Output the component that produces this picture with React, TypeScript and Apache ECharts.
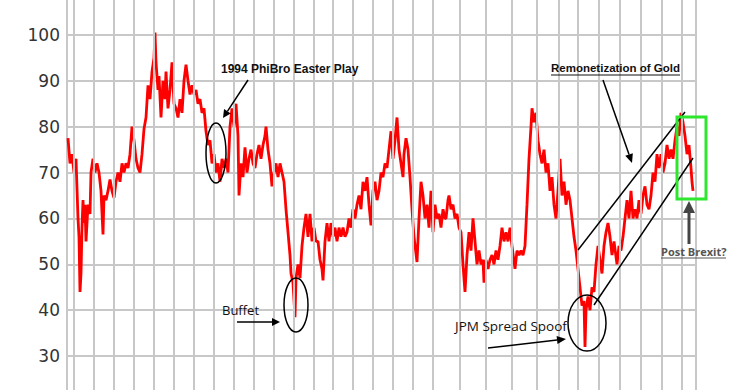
import React, { useEffect, useRef } from "react";
import * as echarts from "echarts";

// Y axis ticks shown
const yTickLabels = [30, 40, 50, 60, 70, 80, 90, 100];

// Period index (time) at which each yearly vertical gridline sits
const yearLines = [6.7, 26.7, 46.7, 66.7, 86.7, 106.7, 127, 147, 167, 187, 207, 227, 247, 266, 286, 306, 326, 346, 366, 393, 419, 445, 470, 492, 511, 532, 553, 574, 595, 615, 629];

// Ratio readings: [period index, value]
const ratio1: [number, number][] = [
  [1, 77.5], [3, 72], [5, 74], [7, 70], [9, 73], [11, 60], [12, 56], [13, 44], [14, 48], [15, 58], [16, 64], [17, 59], [18, 63], [19, 55], [21, 63], [23, 61], [24, 70], [26, 73], [28, 70], [30, 72], [32, 70], [34, 66], [36, 56.5], [37, 65], [39, 64], [41, 66], [43, 68.5], [45, 66], [47, 64.5], [49, 68], [51, 70], [53, 68], [55, 72], [57, 70], [59, 72], [61, 71], [63, 74], [65, 80], [67, 77], [69, 73], [71, 71], [73, 70], [75, 74], [77, 79.5], [79, 82], [81, 89], [83, 86], [85, 92], [87, 95], [88, 100.5], [89, 94], [91, 88], [92, 91], [94, 82], [96, 90], [98, 86], [99, 92], [101, 84], [103, 88], [105, 94], [107, 85], [109, 84], [111, 82], [113, 86], [115, 83], [117, 90], [119, 93.5], [121, 90], [123, 87],
];
const ratio2: [number, number][] = [
  [125, 89], [127, 87], [129, 88], [131, 85], [133, 86], [135, 83], [137, 84], [139, 79], [141, 76], [143, 77], [145, 72], [147, 74], [149, 70], [151, 72], [153, 68], [155, 73], [157, 71], [159, 73], [161, 70], [163, 80], [165, 84], [167, 80], [169, 85], [171, 78], [172, 65], [174, 72], [176, 69], [178, 75.5], [180, 70], [182, 73], [184, 75], [186, 72], [188, 71], [190, 74], [192, 76], [194, 73], [196, 76], [198, 78], [199, 80], [201, 75], [203, 72], [205, 67], [207, 70], [209, 72], [211, 69], [213, 72], [215, 70], [217, 68], [219, 62], [221, 57], [223, 52], [224, 48], [226, 46], [228, 38.5], [229, 47], [231, 50], [233, 47], [235, 54], [237, 58], [239, 61], [241, 56], [243, 61], [245, 55], [247, 58], [249, 55],
];
const ratio3: [number, number][] = [
  [251, 55], [253, 51], [255, 49], [256, 46.5], [258, 55], [260, 59], [262, 55], [264, 59], [266, 56], [268, 58], [270, 55], [272, 58], [274, 56], [276, 58], [278, 56], [280, 57], [282, 60], [284, 58], [286, 62], [288, 60], [290, 63], [292, 65], [294, 62], [296, 68], [298, 66], [300, 69], [302, 63], [304, 58.5], [306, 66], [308, 68], [310, 64], [312, 66], [314, 70], [316, 69], [318, 72], [320, 71], [322, 75], [324, 79], [326, 73], [328, 77], [330, 82], [332, 75], [334, 72], [336, 69], [337, 74], [339, 77.5], [341, 75], [343, 69], [345, 62], [347, 56], [350, 50.5], [352, 60], [354, 68], [356, 65], [358, 60], [360, 63], [362, 58], [364, 66], [366, 57], [368, 63], [370, 60], [372, 61], [374, 58], [376, 62], [378, 60],
];
const ratio4: [number, number][] = [
  [379, 60], [381, 64], [382, 65], [384, 62], [386, 63], [388, 60], [390, 61], [392, 58], [394, 57], [396, 50], [398, 44], [400, 52], [402, 57], [404, 53], [406, 60], [408, 55], [410, 50], [412, 53], [414, 50], [416, 51], [417, 46], [419, 51], [421, 49], [423, 51], [425, 52], [427, 50], [429, 53], [431, 51], [433, 54], [435, 58], [437, 55], [439, 57], [441, 55], [443, 58], [445, 54], [448, 49], [450, 53], [452, 52], [454, 53], [456, 52], [458, 54], [460, 63], [462, 73], [464, 80], [465, 84], [467, 81], [469, 83], [471, 77], [473, 74], [475, 72], [477, 75], [479, 70], [481, 72], [483, 66], [485, 69], [487, 63], [489, 60], [491, 66], [493, 73], [495, 65], [497, 68], [499, 63], [501, 66], [503, 64], [505, 60], [507, 56], [509, 53],
];
const ratio5: [number, number][] = [
  [511, 49], [513, 45], [515, 41], [517, 42], [518, 32], [519, 40], [521, 43], [523, 40], [525, 45], [527, 44], [529, 50], [531, 54], [533, 51], [535, 48], [537, 54], [539, 57], [541, 59], [543, 56], [545, 52], [547, 55], [550, 50], [552, 54], [554, 53], [556, 56], [558, 60], [560, 64], [562, 60], [564, 66], [566, 60], [568, 62], [570, 60], [572, 64], [574, 61], [576, 65], [578, 67], [580, 63], [582, 62], [584, 65], [586, 70], [588, 68], [590, 74], [592, 71], [594, 74], [596, 70], [598, 72], [600, 76], [602, 73], [604, 75], [606, 73], [608, 77], [610, 80], [612, 78], [614, 83], [616, 81], [618, 78], [620, 74], [622, 76], [624, 71], [625, 68], [626, 66],
];

const ratio = [...ratio1, ...ratio2, ...ratio3, ...ratio4, ...ratio5];

// The chart's box starts 11px above the visible window; annotations are given in window pixels
const OFFSET = 11;

function arrow(x1: number, y1: number, x2: number, y2: number, color: string, width: number, headLen: number, headHalf: number) {
  const dx = x2 - x1, dy = y2 - y1;
  const len = Math.sqrt(dx * dx + dy * dy);
  const ux = dx / len, uy = dy / len;
  const bx = x2 - ux * headLen, by = y2 - uy * headLen;
  const px = -uy, py = ux;
  return [
    { type: "line", z: 100, shape: { x1, y1, x2: bx, y2: by }, style: { stroke: color, lineWidth: width } },
    {
      type: "polygon", z: 100,
      shape: { points: [[x2, y2], [bx + px * headHalf, by + py * headHalf], [bx - px * headHalf, by - py * headHalf]] },
      style: { fill: color },
    },
  ];
}

function txt(text: string, x: number, y: number, font: string, fill: string) {
  return {
    type: "text", z: 100, x, y,
    style: { text, font, fill, textAlign: "left", align: "left", textVerticalAlign: "middle", verticalAlign: "middle" },
  };
}

function ell(cx: number, cy: number, rx: number, ry: number) {
  return { type: "ellipse", z: 100, shape: { cx, cy, rx, ry }, style: { fill: "none", stroke: "#000", lineWidth: 1.5 } };
}

export default function App() {
  const ref = useRef<HTMLDivElement>(null);
  useEffect(() => {
    const chart = echarts.init(ref.current!, null, { renderer: "svg" });
    const grey = "#c8c8c8";
    const graphics: any[] = [
      txt("1994 PhiBro Easter Play", 221, 69, 'bold 12px "Liberation Sans"', "#111"),
      ...arrow(248, 80, 223, 118, "#000", 1.5, 8, 4),
      ell(216, 153, 10, 30),
      txt("Buffet", 222, 310, '13px "Open Sans"', "#111"),
      ...arrow(237, 322, 280, 322, "#000", 1.5, 8, 4),
      ell(296, 305, 12, 27),
      txt("JPM Spread Spoof", 455, 326, '13.5px "Open Sans"', "#111"),
      ...arrow(488, 348, 566, 339, "#000", 1.5, 9, 4),
      ell(587, 323, 19, 28),
      { type: "line", z: 100, shape: { x1: 578, y1: 250, x2: 685, y2: 112 }, style: { stroke: "#000", lineWidth: 1.5 } },
      { type: "line", z: 100, shape: { x1: 594, y1: 305, x2: 693, y2: 158 }, style: { stroke: "#000", lineWidth: 1.5 } },
      txt("Remonetization of Gold", 551, 68, 'bold 11.5px "Liberation Sans"', "#111"),
      { type: "line", z: 100, shape: { x1: 551, y1: 75, x2: 680, y2: 75 }, style: { stroke: "#111", lineWidth: 1 } },
      ...arrow(603, 80, 632, 163, "#000", 1.5, 9, 4),
      { type: "rect", z: 100, shape: { x: 677, y: 117, width: 29, height: 82 }, style: { fill: "none", stroke: "#2ee62e", lineWidth: 3 } },
      txt("Post Brexit?", 661, 251, 'bold 11px "Open Sans"', "#555"),
      { type: "line", z: 100, shape: { x1: 661, y1: 258, x2: 726, y2: 258 }, style: { stroke: "#555", lineWidth: 1 } },
      ...arrow(689, 244, 689, 201, "#444", 3, 12, 6),
    ];
    chart.setOption({
      animation: false,
      backgroundColor: "#fff",
      grid: { left: 67, right: 48, top: 0, bottom: 0 },
      xAxis: {
        type: "value", min: 0, max: 630,
        axisLine: { show: false }, axisTick: { show: false }, axisLabel: { show: false }, splitLine: { show: false },
      },
      yAxis: {
        type: "value", min: 20, max: 110, interval: 10,
        axisLine: { show: true, lineStyle: { color: grey, width: 2 } },
        axisTick: { show: false },
        axisLabel: {
          margin: 7, color: "#333", fontSize: 17, fontFamily: "DejaVu Sans",
          formatter: (v: number) => (yTickLabels.indexOf(v) >= 0 ? String(v) : ""),
        },
        splitLine: { show: true, lineStyle: { color: grey, width: 2 } },
      },
      series: [
        {
          type: "line", data: [], z: 1, silent: true,
          markLine: {
            silent: true, symbol: "none", label: { show: false },
            lineStyle: { color: grey, width: 2, type: "solid" },
            emphasis: { disabled: true },
            data: yearLines.map((v) => ({ xAxis: v })),
          },
        },
        {
          type: "line", data: ratio, z: 3, showSymbol: false, silent: true,
          lineStyle: { color: "#ff0000", width: 2.8 },
          itemStyle: { color: "#ff0000" },
        },
      ],
      graphic: [{ type: "group", x: 0, y: OFFSET, children: graphics }],
    });
    return () => chart.dispose();
  }, []);
  return <div ref={ref} style={{ position: "fixed", left: 0, top: -OFFSET, width: 745, height: 413, background: "#fff" }} />;
}
